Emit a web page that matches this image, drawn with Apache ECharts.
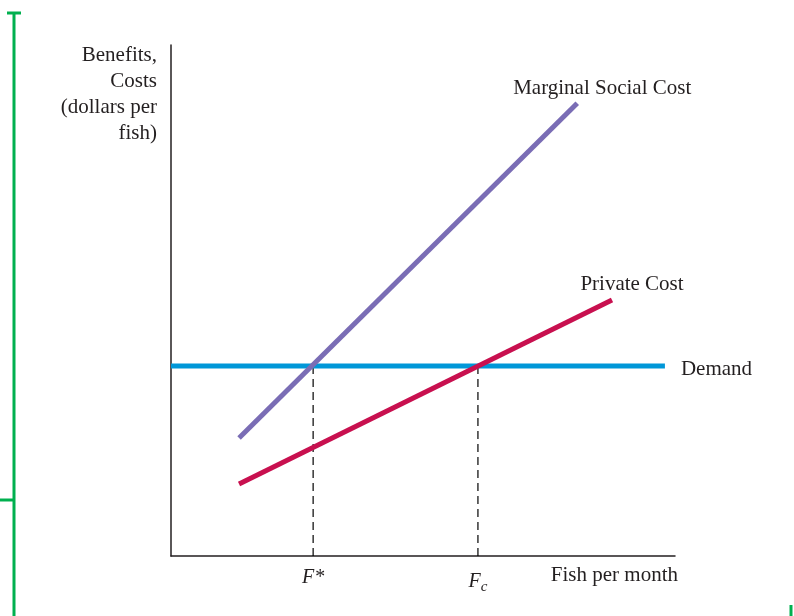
<!DOCTYPE html>
<html>
<head>
<meta charset="utf-8">
<script src="https://cdn.jsdelivr.net/npm/echarts@6/dist/echarts.min.js"></script>
<style>
  html, body { margin: 0; padding: 0; background: #fff; }
  #main { width: 794px; height: 616px; }
</style>
</head>
<body>
<div id="main"></div>
<script>
// quantities on a 0-100 scale (no numbers on the axes in the original)
var demandX = [0, 98];
var demandY = [37.2, 37.2];
var socialCostX = [13.5, 80.6];
var socialCostY = [23.1, 88.6];
var privateCostX = [13.5, 87.5];
var privateCostY = [14.1, 50.1];
var fStar = 28.2;
var fCompetitive = 60.9;
var lineNames = ['Demand', 'Marginal Social Cost', 'Private Cost'];
var yTitle = 'Benefits,\nCosts\n(dollars per\nfish)';
var xTitle = 'Fish per month';

var serif = '"Liberation Serif", "DejaVu Serif", serif';
var ink = '#231f20';

function pairs(xs, ys) {
    var out = [];
    for (var i = 0; i < xs.length; i++) out.push([xs[i], ys[i]]);
    return out;
}

var myChart = echarts.init(document.getElementById('main'));
var option = {
    animation: false,
    grid: { left: 171, top: 45, right: 119, bottom: 60 },
    xAxis: {
        type: 'value',
        min: 0,
        max: 100,
        splitLine: { show: false },
        axisTick: { show: false },
        axisLine: { lineStyle: { color: ink, width: 1.5 } },
        axisLabel: {
            customValues: [fStar, fCompetitive],
            margin: 12,
            formatter: function(v) {
                return v === fStar ? '{i|F*}' : '{i|F}{sub|c}';
            },
            rich: {
                i: { fontFamily: serif, fontStyle: 'italic', fontSize: 20, color: ink },
                sub: { fontFamily: serif, fontStyle: 'italic', fontSize: 15, color: ink, padding: [12, 0, 0, 0] }
            }
        }
    },
    yAxis: {
        type: 'value',
        min: 0,
        max: 100,
        splitLine: { show: false },
        axisTick: { show: false },
        axisLabel: { show: false },
        axisLine: { lineStyle: { color: ink, width: 1.5 } }
    },
    series: [{
        name: 'F* guide',
        type: 'line',
        symbol: 'none',
        silent: true,
        data: [[fStar, demandY[0]], [fStar, 0]],
        lineStyle: { color: '#000', width: 1.2, type: [8, 5] },
        z: 1
    }, {
        name: 'Fc guide',
        type: 'line',
        symbol: 'none',
        silent: true,
        data: [[fCompetitive, demandY[0]], [fCompetitive, 0]],
        lineStyle: { color: '#000', width: 1.2, type: [8, 5] },
        z: 1
    }, {
        name: lineNames[0],
        type: 'line',
        symbol: 'none',
        data: pairs(demandX, demandY),
        lineStyle: { color: '#0097d8', width: 5 },
        z: 2
    }, {
        name: lineNames[1],
        type: 'line',
        symbol: 'none',
        data: pairs(socialCostX, socialCostY),
        lineStyle: { color: '#7a6db5', width: 5 },
        z: 3
    }, {
        name: lineNames[2],
        type: 'line',
        symbol: 'none',
        data: pairs(privateCostX, privateCostY),
        lineStyle: { color: '#c8104f', width: 5 },
        z: 3
    }]
};
myChart.setOption(option);

// curve labels, placed next to the line ends
var dEnd = myChart.convertToPixel({ gridIndex: 0 }, [demandX[1], demandY[1]]);
var sEnd = myChart.convertToPixel({ gridIndex: 0 }, [socialCostX[1], socialCostY[1]]);
var pEnd = myChart.convertToPixel({ gridIndex: 0 }, [privateCostX[1], privateCostY[1]]);
var labelStyle = { fontFamily: serif, fontSize: 21, fill: ink };

myChart.setOption({
    graphic: [
        { type: 'text', x: dEnd[0] + 16, y: dEnd[1] + 4, style: Object.assign({ text: lineNames[0], align: 'left', verticalAlign: 'middle' }, labelStyle) },
        { type: 'text', x: sEnd[0] + 25, y: sEnd[1] - 15, style: Object.assign({ text: lineNames[1], align: 'center', verticalAlign: 'middle' }, labelStyle) },
        { type: 'text', x: pEnd[0] + 20, y: pEnd[1] - 16, style: Object.assign({ text: lineNames[2], align: 'center', verticalAlign: 'middle' }, labelStyle) },
        { type: 'text', x: 678, y: 575, style: Object.assign({ text: xTitle, align: 'right', verticalAlign: 'middle' }, labelStyle) },
        { type: 'text', x: 157, y: 42, style: Object.assign({ text: yTitle, align: 'right', verticalAlign: 'top', lineHeight: 26 }, labelStyle) },
        // green crop marks of the page
        { type: 'line', shape: { x1: 14, y1: 13, x2: 14, y2: 616 }, style: { stroke: '#00b04f', lineWidth: 3 } },
        { type: 'line', shape: { x1: 7, y1: 13, x2: 21, y2: 13 }, style: { stroke: '#00b04f', lineWidth: 3 } },
        { type: 'line', shape: { x1: 0, y1: 500, x2: 14, y2: 500 }, style: { stroke: '#00b04f', lineWidth: 3 } },
        { type: 'line', shape: { x1: 791, y1: 605, x2: 791, y2: 616 }, style: { stroke: '#00b04f', lineWidth: 3 } }
    ]
});
</script>
</body>
</html>
